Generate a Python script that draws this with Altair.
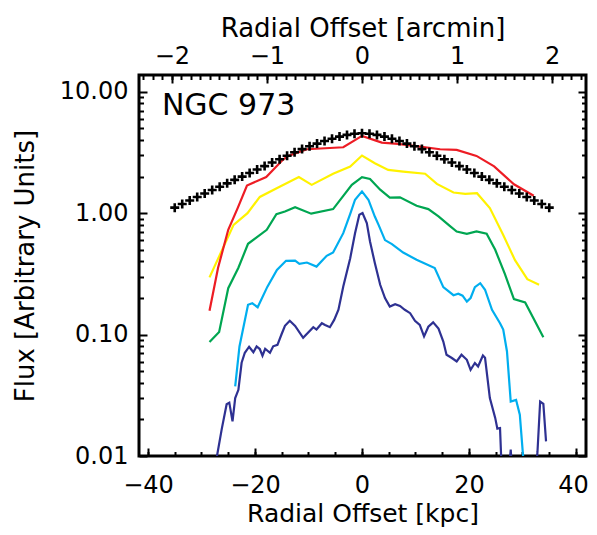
import altair as alt
import pandas as pd

# ---------------- data ----------------
red_x = [-28.5, -26.9, -25.0, -23.2, -21.5, -17.9, -14.8, -13.8, -11.6, -10.3,
         -3.5, 0.0, 3.7, 6.7, 10.8, 14.6, 17.7, 21.4, 24.7, 28.4, 32.1]
red_y = [0.157, 0.355, 0.73, 1.11, 1.69, 1.98, 2.75, 2.96, 3.21, 3.36,
         3.49, 4.33, 3.81, 3.72, 3.53, 3.36, 3.32, 2.96, 2.43, 1.73, 1.39]

yellow_x = [-28.5, -24.0, -21.4, -19.1, -15.3, -11.8, -9.4, -5.4, -2.2, 0.0,
            2.4, 4.9, 7.7, 11.8, 14.0, 17.1, 19.3, 21.5, 23.9, 26.4,
            28.6, 30.9, 33.1]
yellow_y = [0.296, 0.80, 1.00, 1.36, 1.66, 1.98, 1.71, 2.11, 2.42, 2.98,
            2.58, 2.27, 2.20, 2.11, 1.74, 1.48, 1.44, 1.46, 1.10, 0.66,
            0.41, 0.286, 0.257]

green_x = [-28.5, -26.7, -25.0, -23.1, -21.3, -17.8, -16.0, -14.4, -12.5, -9.5,
           -5.4, -1.9, 0.0, 1.5, 3.4, 5.2, 7.1, 10.2, 12.4, 14.3,
           16.4, 17.7, 19.6, 21.4, 23.3, 24.9, 26.7, 28.4, 30.5, 33.9]
green_y = [0.087, 0.105, 0.241, 0.355, 0.559, 0.729, 0.98, 1.03, 1.12, 0.99,
           1.08, 1.71, 1.98, 1.91, 1.56, 1.34, 1.35, 1.15, 1.08, 0.94,
           0.786, 0.706, 0.676, 0.706, 0.676, 0.499, 0.316, 0.196, 0.184, 0.095]

cyan_x = [-23.7, -22.9, -21.3, -20.5, -19.5, -17.7, -15.9, -14.2, -12.5, -11.7,
          -10.3, -8.5, -6.6, -5.4, -3.5, -2.2, -1.3, 0.0, 1.2, 2.4,
          3.1, 4.3, 5.6, 7.7, 10.2, 13.6, 15.2, 17.1, 18.0, 18.8,
          19.6, 20.3, 21.1, 22.1, 23.0, 24.3, 25.8, 26.4, 27.1, 27.8,
          28.8, 29.5, 30.3]
cyan_y = [0.0374, 0.0798, 0.176, 0.181, 0.168, 0.247, 0.341, 0.405, 0.407, 0.383,
          0.392, 0.363, 0.445, 0.474, 0.684, 0.986, 1.29, 1.51, 1.29, 0.938,
          0.80, 0.60, 0.556, 0.474, 0.413, 0.353, 0.246, 0.211, 0.217, 0.209,
          0.187, 0.200, 0.246, 0.265, 0.234, 0.160, 0.124, 0.110, 0.0726, 0.0281,
          0.029, 0.0219, 0.0078]

navy_x = [-27.7, -27.1, -26.2, -25.3, -24.8, -24.2, -23.7, -23.1, -22.5, -21.9,
          -21.1, -20.3, -19.7, -19.1, -18.6, -18.1, -17.2, -16.6, -15.8, -15.0,
          -14.4, -13.5, -12.5, -11.0, -9.1, -8.5, -7.5, -6.9, -6.0, -5.2,
          -4.4, -3.5, -2.2, -1.3, -0.5, 0.1, 0.9, 1.5, 2.4, 3.4,
          4.3, 5.2, 6.2, 7.1, 8.0, 9.0, 9.9, 10.8, 11.6, 12.4,
          13.3, 14.3, 15.2, 15.8, 16.8, 17.7, 18.6, 19.6, 20.3, 21.1,
          21.7, 22.6, 23.0, 23.9, 24.9, 25.3, 25.8, 26.1, 27.3, 27.8,
          28.2, 32.3, 32.8, 33.3, 33.9, 34.4]
navy_y = [0.007, 0.0100, 0.0168, 0.0267, 0.0275, 0.0193, 0.030, 0.0351, 0.0586, 0.0708,
          0.0794, 0.0715, 0.0798, 0.0760, 0.067, 0.0764, 0.0708, 0.080, 0.0824, 0.1016,
          0.118, 0.130, 0.118, 0.094, 0.115, 0.110, 0.124, 0.120, 0.115, 0.132,
          0.160, 0.249, 0.426, 0.684, 0.968, 1.00, 0.828, 0.584, 0.388, 0.257,
          0.200, 0.170, 0.178, 0.172, 0.160, 0.150, 0.130, 0.120, 0.0965, 0.116,
          0.126, 0.112, 0.0877, 0.0682, 0.0641, 0.060, 0.0682, 0.062, 0.0513, 0.0583,
          0.0546, 0.0673, 0.0644, 0.030, 0.0206, 0.0168, 0.0170, 0.0078, 0.006, 0.0113,
          0.006, 0.006, 0.0108, 0.0281, 0.0269, 0.0132]

plus_x = [-35.0, -33.6, -32.2, -30.8, -29.4, -28.0, -26.6, -25.2, -23.8, -22.4,
          -21.0, -19.6, -18.2, -16.8, -15.4, -14.0, -12.6, -11.2, -9.8, -8.4,
          -7.0, -5.6, -4.2, -2.8, -1.4, 0.0, 1.4, 2.8, 4.2, 5.6,
          7.0, 8.4, 9.8, 11.2, 12.6, 14.0, 15.4, 16.8, 18.2, 19.6,
          21.0, 22.4, 23.8, 25.2, 26.6, 28.0, 29.4, 30.8, 32.2, 33.6, 35.0]
plus_y = [1.11, 1.19, 1.27, 1.36, 1.45, 1.55, 1.65, 1.76, 1.88, 2.00,
          2.14, 2.29, 2.44, 2.61, 2.78, 2.97, 3.17, 3.37, 3.56, 3.74,
          3.93, 4.10, 4.27, 4.41, 4.51, 4.55, 4.51, 4.41, 4.27, 4.10,
          3.93, 3.74, 3.56, 3.37, 3.17, 2.97, 2.78, 2.61, 2.44, 2.29,
          2.14, 2.00, 1.88, 1.76, 1.65, 1.55, 1.45, 1.36, 1.27, 1.19, 1.11]

series_names = ["red", "yellow", "green", "cyan", "navy"]
series_colors = ["#ED1C24", "#FFF200", "#00A651", "#00AEEF", "#2E3192"]

label_text = "NGC 973"
label_x = -37.4
label_y = 6.46

# axis definitions
bottom_major = [-40, -20, 0, 20, 40]
bottom_minor = [-40, -35, -30, -25, -20, -15, -10, -5, 0, 5, 10, 15, 20, 25, 30, 35, 40]
KPC_PER_ARCMIN = 17.77
arcmin_major = [-2, -1, 0, 1, 2]
arcmin_minor = [round(-2.3 + 0.1 * i, 1) for i in range(47)]
top_major = [a * KPC_PER_ARCMIN for a in arcmin_major]
top_minor = [a * KPC_PER_ARCMIN for a in arcmin_minor]
y_major = [0.01, 0.1, 1, 10]
y_minor = [m * d for d in (0.01, 0.1, 1) for m in range(2, 10)]

X_DOMAIN = [-41.68, 41.87]
Y_DOMAIN = [0.01, 13.73]
W, H = 447, 381
FONT = "DejaVu Sans"

# ---------------- tables ----------------
rows = []
for name, xs_, ys_ in [("navy", navy_x, navy_y), ("cyan", cyan_x, cyan_y),
                       ("green", green_x, green_y), ("yellow", yellow_x, yellow_y),
                       ("red", red_x, red_y)]:
    for xv, yv in zip(xs_, ys_):
        rows.append({"series": name, "x": xv, "y": yv})
lines_df = pd.DataFrame(rows)
plus_df = pd.DataFrame({"x": plus_x, "y": plus_y})
text_df = pd.DataFrame({"x": [label_x], "y": [label_y], "t": [label_text]})

xs = alt.Scale(domain=X_DOMAIN, nice=False, zero=False)
ys = alt.Scale(type="log", domain=Y_DOMAIN, nice=False)

common = dict(grid=False, labelFlush=False, labelColor="black", tickColor="black",
              titleColor="black", labelFont=FONT, titleFont=FONT)


def tick_axis(orient, values, size, offset):
    return alt.Axis(orient=orient, values=values, labels=False, domain=False,
                    ticks=True, tickSize=size, tickWidth=2, offset=offset,
                    title=None, **common)


lines = alt.Chart(lines_df).mark_line(strokeWidth=2.2, clip=True).encode(
    x=alt.X("x:Q", scale=xs, axis=alt.Axis(
        orient="bottom", values=bottom_major, ticks=False, tickSize=0, domain=False,
        labelFontSize=24, labelBaseline="alphabetic", labelPadding=36,
        labelOffset={"condition": {"test": "datum.value == 40", "value": -3}, "value": 0},
        title="Radial Offset [kpc]", titleFontSize=25, titleFontWeight="normal",
        titleBaseline="alphabetic", titleY=65, **common)),
    y=alt.Y("y:Q", scale=ys, axis=alt.Axis(
        orient="left", values=y_major, format=".2f", ticks=False, tickSize=0,
        domain=False, labelFontSize=24, labelPadding=11,
        title="Flux [Arbitrary Units]", titleFontSize=26, titleFontWeight="normal",
        titleAngle=270, titleBaseline="alphabetic", titleX=-106, **common)),
    color=alt.Color("series:N", scale=alt.Scale(domain=series_names, range=series_colors),
                    legend=None),
    detail="series:N",
)

plus = alt.Chart(plus_df).mark_point(
    shape="M-1,0H1M0,-1V1", size=81, strokeWidth=2.6, color="black", filled=False,
    opacity=1, clip=True).encode(
    x=alt.X("x:Q", scale=xs, axis=alt.Axis(
        orient="top", values=top_major,
        labelExpr="format(datum.value / %s, 'd')" % KPC_PER_ARCMIN,
        ticks=False, tickSize=0, domain=False, labelFontSize=24,
        labelBaseline="alphabetic", labelPadding=11.7,
        title="Radial Offset [arcmin]", titleFontSize=26, titleFontWeight="normal",
        titleBaseline="alphabetic", titleY=-38.3, **common)),
    y=alt.Y("y:Q", scale=ys, axis=alt.Axis(
        orient="right", labels=False, ticks=False, domain=False, title=None, **common)),
)


def tick_layer(xo, xv, yo, yv, size):
    return alt.Chart(plus_df).mark_point(opacity=0).encode(
        x=alt.X("x:Q", scale=xs, axis=tick_axis(xo, xv, size, -H)),
        y=alt.Y("y:Q", scale=ys, axis=tick_axis(yo, yv, size, -W)),
    )


# inward ticks: an axis on the opposite side, pulled across the plot by a negative offset
t_major_bl = tick_layer("top", bottom_major, "right", y_major, 8)
t_minor_bl = tick_layer("top", bottom_minor, "right", y_minor, 4.5)
t_major_tr = tick_layer("bottom", top_major, "left", y_major, 8)
t_minor_tr = tick_layer("bottom", top_minor, "left", y_minor, 4.5)

label = alt.Chart(text_df).mark_text(
    align="left", baseline="alphabetic", font=FONT, fontSize=30, color="black").encode(
    x=alt.X("x:Q", scale=xs, axis=None),
    y=alt.Y("y:Q", scale=ys, axis=None),
    text="t:N",
)

chart = alt.layer(
    lines, plus, t_major_bl, t_minor_bl, t_major_tr, t_minor_tr, label
).resolve_axis(x="independent", y="independent").properties(
    width=W, height=H,
    padding={"left": 131, "top": 67, "right": 3, "bottom": 71},
    autosize=alt.AutoSizeParams(type="none"),
    background="white",
).configure_view(stroke="black", strokeWidth=3)

chart.save("out.html", embed_options={"renderer": "svg", "actions": False})
